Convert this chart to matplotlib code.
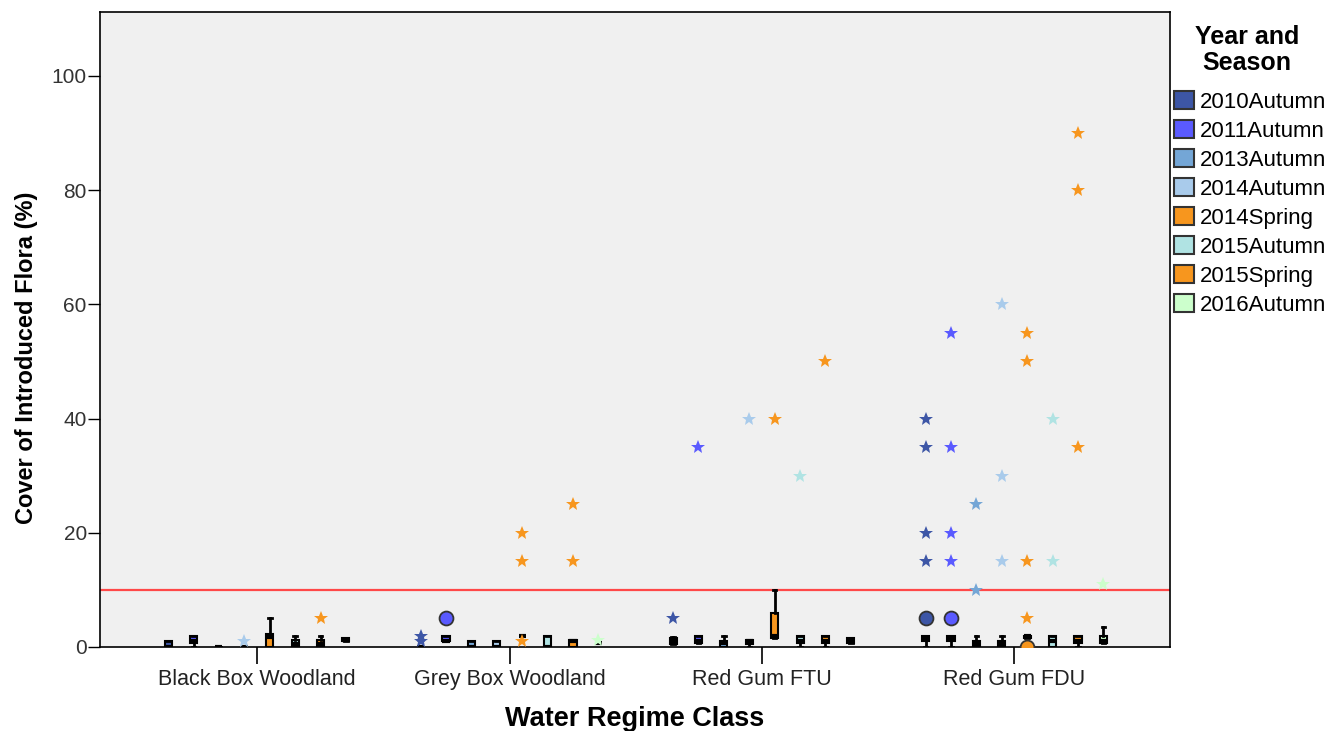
import matplotlib
matplotlib.use('Agg')
import matplotlib.pyplot as plt
from matplotlib.patches import Patch

plt.rcParams['font.family'] = ['Liberation Sans', 'DejaVu Sans']

groups = ['Black Box Woodland', 'Grey Box Woodland', 'Red Gum FTU', 'Red Gum FDU']
seasons = ['2010Autumn', '2011Autumn', '2013Autumn', '2014Autumn',
           '2014Spring', '2015Autumn', '2015Spring', '2016Autumn']
seasonColors = ['#3d56a6', '#5a5aff', '#74a6d6', '#a9cbeb',
                '#f7961e', '#b0e3e3', '#f7961e', '#ccffcc']

# box statistics, one row per water regime class, one column per season
q1 = [[0, 0.75, 0, 0, 0, 0, 0, 1],
      [0, 1, 0, 0, 2, 0, 0, 0.75],
      [0.5, 0.75, 0, 0.5, 1.5, 0.75, 0.75, 0.75],
      [1, 1, 0, 0, 1.5, 0, 0.75, 0.75]]
median = [[0, 1, 0, 0, 1.75, 0.5, 0.5, 1.25],
          [0, 1, 0, 0, 2, 0, 1, 0.75],
          [1, 1, 0.75, 1, 2, 1, 1, 1],
          [1.5, 1.5, 0.5, 0.5, 2, 1, 1, 1]]
q3 = [[1, 2, 0, 0, 2.25, 1.25, 1.25, 1.5],
      [0, 2, 1, 1, 2, 2, 1.25, 0.75],
      [1.5, 2, 1, 1.25, 6, 2, 2, 1.5],
      [2, 2, 1, 1, 2, 2, 2, 2]]
whiskerLow = [[0, 0, 0, 0, 0, 0, 0, 1],
              [0, 1, 0, 0, 2, 0, 0, 0.75],
              [0.5, 0.75, 0, 0, 1.5, 0, 0, 0.75],
              [0, 0, 0, 0, 1.5, 0, 0, 0.75]]
whiskerHigh = [[1, 2, 0, 0, 5, 2, 2, 1.5],
               [0, 2, 1, 1, 2, 2, 1.25, 0.75],
               [1.75, 2, 2, 1.25, 10, 2, 2, 1.5],
               [2, 2, 2, 2, 2, 2, 2, 3.5]]

# outliers (circles) and extreme values (stars)
outliers = [[[], [], [], [], [], [], [], []],
            [[], [5], [], [], [], [], [], []],
            [[], [], [], [], [], [], [], []],
            [[5], [5], [], [], [0], [], [], []]]
extremes = [[[], [], [], [1], [], [], [5], []],
            [[1, 2], [], [], [], [1, 15, 20], [], [15, 25], [1.25]],
            [[5], [35], [], [40], [40], [30], [50], []],
            [[15, 20, 35, 40], [15, 20, 35, 55], [10, 25], [15, 30, 60],
             [5, 15, 50, 55], [15, 40], [35, 80, 90], [11]]]

cutoff = 10
spacing = 0.1006

fig = plt.figure(figsize=(13.28, 7.31), dpi=100)
ax = fig.add_axes([100 / 1328, 84 / 731, 1070 / 1328, 635 / 731])
ax.set_facecolor('#f0f0f0')

ax.axhline(cutoff, color='#ff4848', linewidth=1.6, zorder=1)

for g in range(len(groups)):
    for k in range(len(seasons)):
        pos = g + (k - 3.5) * spacing
        stats = [dict(q1=q1[g][k], med=median[g][k], q3=q3[g][k],
                      whislo=whiskerLow[g][k], whishi=whiskerHigh[g][k], fliers=[])]
        parts = ax.bxp(stats, positions=[pos], widths=0.028, capwidths=0.014,
                       patch_artist=True, showfliers=False, manage_ticks=False,
                       boxprops=dict(facecolor=seasonColors[k], edgecolor='black', linewidth=1.5),
                       medianprops=dict(color='black', linewidth=3),
                       whiskerprops=dict(color='black', linewidth=2),
                       capprops=dict(color='black', linewidth=2))
        for artist in parts['boxes'] + parts['medians'] + parts['whiskers'] + parts['caps']:
            artist.set_zorder(3)
        if outliers[g][k]:
            ax.plot([pos] * len(outliers[g][k]), outliers[g][k], 'o', markersize=10,
                    markerfacecolor=seasonColors[k], markeredgecolor='#333333',
                    markeredgewidth=1.3, zorder=4)
        if extremes[g][k]:
            ax.plot([pos] * len(extremes[g][k]), extremes[g][k], '*', markersize=10,
                    color=seasonColors[k], markeredgewidth=0, zorder=4)

ax.set_xlim(-0.622, 3.616)
ax.set_ylim(0, 111.2)
ax.set_xticks(range(len(groups)))
ax.set_xticklabels(groups, fontsize=15.5, color='#222222')
ax.set_yticks([0, 20, 40, 60, 80, 100])
ax.tick_params(axis='y', labelsize=15, labelcolor='#333333', length=9, width=1, pad=0.5)
ax.tick_params(axis='x', length=12, width=1.2, pad=4)
for spine in ax.spines.values():
    spine.set_color('black')
    spine.set_linewidth(1.2)

ax.set_xlabel('Water Regime Class', fontsize=19.5, fontweight='bold', labelpad=11)
ax.set_ylabel('Cover of Introduced Flora (%)', fontsize=17, fontweight='bold')
ax.yaxis.set_label_coords(-0.058, 0.455)

# legend title drawn separately so it can sit centred above the entries
fig.text(1247 / 1328, 1 - 50 / 731, 'Year and\nSeason', ha='center', va='center',
         fontsize=18, fontweight='bold', linespacing=1.1)
handles = [Patch(facecolor=c, edgecolor='#333333', linewidth=1.5) for c in seasonColors]
fig.legend(handles, seasons, loc='upper left', bbox_to_anchor=(1174 / 1328, 1 - 91 / 731),
           frameon=False, fontsize=16,
           handlelength=0.9, handleheight=0.9, handletextpad=0.25,
           labelspacing=0.32, borderpad=0, borderaxespad=0)

fig.savefig('out.png', dpi=100)
